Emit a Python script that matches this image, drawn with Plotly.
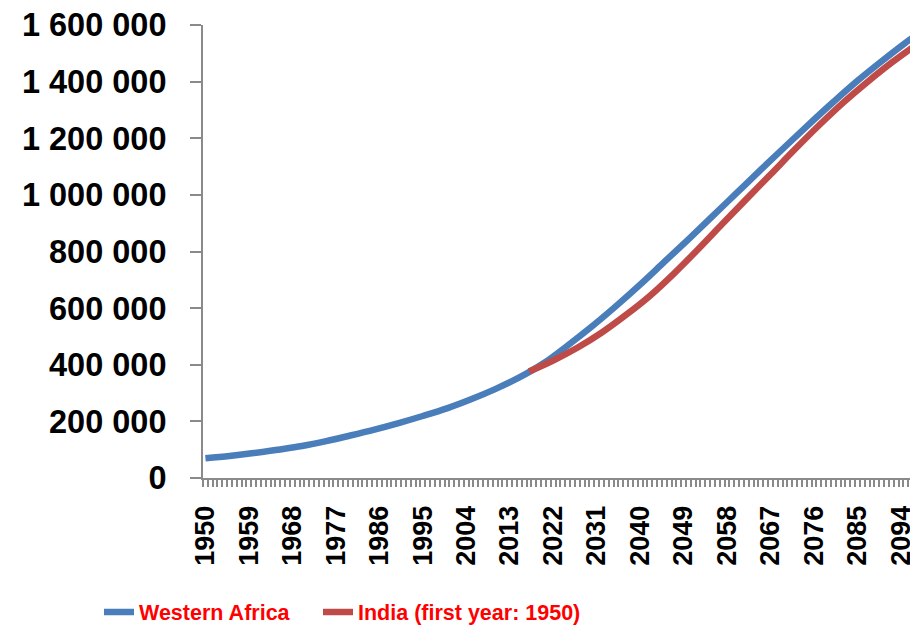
import plotly.graph_objects as go

# Western Africa population (thousands), read every 5 years
wa_years = [1950, 1955, 1960, 1965, 1970, 1975, 1980, 1985, 1990, 1995,
            2000, 2005, 2010, 2015, 2020, 2025, 2030, 2035, 2040, 2045,
            2050, 2055, 2060, 2065, 2070, 2075, 2080, 2085, 2090, 2095, 2100]
wa_values = [70000, 78000, 88000, 100000, 113000, 130000, 150000, 171000, 194000, 219000,
             246000, 278000, 314000, 355000, 405000, 468000, 535000, 607000, 683000, 763000,
             843000, 925000, 1007000, 1089000, 1170000, 1250000, 1328000, 1403000, 1472000, 1538000, 1600000]

# India population (thousands), India's own years 1950.. shifted to start in 2017
india_years_plotted = [2017, 2022, 2027, 2032, 2037, 2042, 2047, 2052, 2057, 2062,
                       2067, 2072, 2077, 2082, 2087, 2092, 2097, 2102]
india_values = [376000, 415000, 460000, 513000, 575000, 643000, 722000, 808000, 897000, 985000,
                1072000, 1160000, 1245000, 1325000, 1398000, 1466000, 1528000, 1585000]

x_tick_years = [1950, 1959, 1968, 1977, 1986, 1995, 2004, 2013, 2022, 2031,
                2040, 2049, 2058, 2067, 2076, 2085, 2094]
y_tick_vals = [0, 200000, 400000, 600000, 800000, 1000000, 1200000, 1400000, 1600000]
y_tick_text = ["0", "200 000", "400 000", "600 000", "800 000", "1 000 000",
               "1 200 000", "1 400 000", "1 600 000"]

AXIS = "#8a8a8a"
FONT = "Liberation Sans, Arial, sans-serif"

fig = go.Figure()
fig.add_trace(go.Scatter(x=wa_years, y=wa_values, mode="lines", name="Western Africa",
                         legend="legend",
                         line=dict(color="#4a7ebb", width=6.5, shape="spline", smoothing=1)))
fig.add_trace(go.Scatter(x=india_years_plotted, y=india_values, mode="lines",
                         name="India (first year: 1950)", legend="legend2",
                         line=dict(color="#be4b48", width=6.5, shape="spline", smoothing=1)))

# page body has an 8px margin: figure is placed at (8, 8) in the window
px_per_year = 4.83
plot_l, plot_r = 203, 918      # on-screen plot area
plot_w = plot_r - plot_l
leg_font = dict(family=FONT, size=21.5, color="#ff0000", weight="bold")
fig.update_layout(
    width=910, height=623,
    margin=dict(l=195, r=0, t=17, b=153, autoexpand=False),
    paper_bgcolor="white", plot_bgcolor="white",
    showlegend=True,
    legend=dict(orientation="h", x=(99 - plot_l) / plot_w, xanchor="left", y=-0.2958, yanchor="middle",
                font=leg_font, itemwidth=30, bgcolor="rgba(0,0,0,0)"),
    legend2=dict(orientation="h", x=(318 - plot_l) / plot_w, xanchor="left", y=-0.2958, yanchor="middle",
                 font=leg_font, itemwidth=30, bgcolor="rgba(0,0,0,0)"),
    xaxis=dict(range=[1949.5, 1949.5 + plot_w / px_per_year], automargin=False,
               tickmode="array", tickvals=x_tick_years, ticktext=[str(v) for v in x_tick_years],
               tickangle=-90, ticks="", ticklabelstandoff=15, ticklabeloverflow="allow",
               tickfont=dict(family=FONT, size=27, color="black", weight="bold"),
               showgrid=False, zeroline=False, showline=True, linecolor=AXIS, linewidth=2,
               minor=dict(ticks="outside", tick0=1949.5, dtick=1, ticklen=7,
                          tickcolor=AXIS, tickwidth=1.5, showgrid=False)),
    yaxis=dict(range=[0, 1600000], automargin=False,
               tickmode="array", tickvals=y_tick_vals, ticktext=y_tick_text,
               ticks="outside", ticklen=11, tickcolor=AXIS, tickwidth=2, ticklabelstandoff=17,
               ticklabeloverflow="allow",
               tickfont=dict(family=FONT, size=32.5, color="black", weight="bold"),
               showgrid=False, zeroline=False, showline=True, linecolor=AXIS, linewidth=2),
)

fig.write_html("out.html")
